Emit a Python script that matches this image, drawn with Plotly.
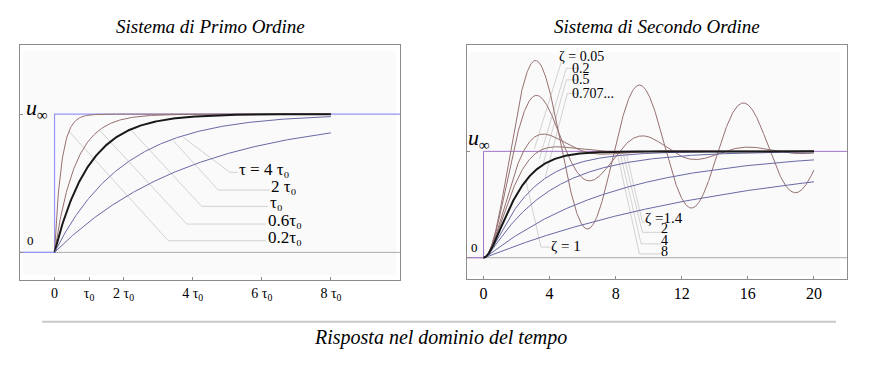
import numpy as np
import plotly.graph_objects as go

# ---------------- data ----------------
tau_values = [0.2, 0.6, 1.0, 2.0, 4.0]          # in units of tau0
zeta_values = [0.05, 0.2, 0.5, 0.7071, 1.0, 1.4, 2.0, 4.0, 8.0]
left_ticks = [0, 1, 2, 4, 6, 8]
left_ticktext = ["0", "τ<sub>0</sub>", "2 τ<sub>0</sub>", "4 τ<sub>0</sub>", "6 τ<sub>0</sub>", "8 τ<sub>0</sub>"]
right_ticks = [0, 4, 8, 12, 16, 20]
t1_end = 8.0
t2_end = 20.0

# ---------------- styles ----------------
BROWN = "rgb(150,112,112)"
BLUE = "rgb(105,105,165)"
BLACK = "rgb(25,25,25)"
STEP_L = "rgb(150,150,245)"
STEP_R = "rgb(160,115,200)"
LEADER = "rgb(200,200,200)"
FRAME = "rgb(140,140,140)"
SERIF = "Liberation Serif"

def first_order(t, tau):
    return 1 - np.exp(-t / tau)

def second_order(t, z):
    if z < 1:
        wd = np.sqrt(1 - z * z)
        return 1 - np.exp(-z * t) * (np.cos(wd * t) + z / wd * np.sin(wd * t))
    if z == 1:
        return 1 - (1 + t) * np.exp(-t)
    r = np.sqrt(z * z - 1)
    s1, s2 = -z + r, -z - r
    return 1 + (s2 * np.exp(s1 * t) - s1 * np.exp(s2 * t)) / (s1 - s2)

fig = go.Figure()

# pixel -> data helpers (for annotation placement only)
def L(px, py):
    return (px - 54.3) / 34.6, (253.3 - py) / 138.3

def R(px, py):
    return (px - 484.3) / 16.5, (258.3 - py) / 106.0

# ---------- left panel ----------
fig.add_trace(go.Scatter(x=[-1, 10], y=[0, 0], mode="lines", line=dict(color="rgb(170,170,170)", width=1),
                         xaxis="x", yaxis="y", hoverinfo="skip"))
fig.add_trace(go.Scatter(x=[-1, 0, 0, 10], y=[0, 0, 1, 1], mode="lines", line=dict(color=STEP_L, width=1.2),
                         xaxis="x", yaxis="y", hoverinfo="skip"))
t1 = np.linspace(0, t1_end, 400)
for tau in tau_values:
    col = BLACK if tau == 1 else (BROWN if tau < 1 else BLUE)
    w = 2 if tau == 1 else 1
    fig.add_trace(go.Scatter(x=t1, y=first_order(t1, tau), mode="lines", line=dict(color=col, width=w),
                             xaxis="x", yaxis="y", hoverinfo="skip"))

# ---------- right panel ----------
fig.add_trace(go.Scatter(x=[-1, 22], y=[0, 0], mode="lines", line=dict(color="rgb(170,170,170)", width=1),
                         xaxis="x2", yaxis="y2", hoverinfo="skip"))
fig.add_trace(go.Scatter(x=[-1, 0, 0, 22], y=[0, 0, 1, 1], mode="lines", line=dict(color=STEP_R, width=1),
                         xaxis="x2", yaxis="y2", hoverinfo="skip"))
t2 = np.linspace(0, t2_end, 1200)
order = [z for z in zeta_values if z != 1] + [1.0]
for z in order:
    col = BLACK if z == 1 else (BROWN if z < 1 else BLUE)
    w = 2 if z == 1 else 1
    fig.add_trace(go.Scatter(x=t2, y=second_order(t2, z), mode="lines", line=dict(color=col, width=w),
                             xaxis="x2", yaxis="y2", hoverinfo="skip"))

shapes = []
# inner light background
shapes.append(dict(type="rect", xref="x", yref="y", x0=-0.93, x1=9.88, y0=-0.165, y1=1.455,
                   fillcolor="rgb(250,250,250)", line=dict(width=0), layer="below"))
shapes.append(dict(type="rect", xref="x2", yref="y2", x0=-0.9, x1=21.6, y0=-0.17, y1=1.93,
                   fillcolor="rgb(250,250,250)", line=dict(width=0), layer="below"))

def leader(pts, xr, yr, conv):
    d = [conv(*p) for p in pts]
    path = "M " + " L ".join(f"{a:.4f},{b:.4f}" for a, b in d)
    shapes.append(dict(type="path", path=path, xref=xr, yref=yr, line=dict(color=LEADER, width=0.8), layer="below"))

# left leaders (pixel readings)
leader([(68.3, 131.7), (168.3, 241.7), (266, 241.7)], "x", "y", L)
leader([(100, 131.7), (186.7, 225), (266, 225)], "x", "y", L)
leader([(131.7, 131.7), (201.7, 207.3), (268, 207.3)], "x", "y", L)
leader([(173.3, 141.7), (218.3, 191), (270, 191)], "x", "y", L)
leader([(183.3, 138.3), (230, 173.3), (238, 173.3)], "x", "y", L)
# right leaders
leader([(562, 63), (535, 150)], "x2", "y2", R)
leader([(579, 69.5), (567, 69.5), (540, 160)], "x2", "y2", R)
leader([(579, 81), (567, 81), (543, 168)], "x2", "y2", R)
leader([(579, 94.5), (568, 94.5), (546, 178)], "x2", "y2", R)
leader([(551, 247.7), (541.7, 247.7), (526.7, 181.7)], "x2", "y2", R)
leader([(646, 222.7), (643, 222.7), (627, 155)], "x2", "y2", R)
leader([(662, 233), (643, 233), (624, 155)], "x2", "y2", R)
leader([(662, 244.5), (641.7, 244.5), (621, 155)], "x2", "y2", R)
leader([(662, 254.5), (640, 254.5), (618, 155)], "x2", "y2", R)

# bottom separator
shapes.append(dict(type="line", xref="paper", yref="paper", x0=42 / 869, x1=836 / 869,
                   y0=1 - 321.7 / 367, y1=1 - 321.7 / 367, line=dict(color="rgb(200,200,200)", width=2)))

ann = []
def text(t, xy, xr, yr, size, anchor="left", italic=False, color="black"):
    ann.append(dict(text=t, x=xy[0], y=xy[1], xref=xr, yref=yr, showarrow=False, xanchor=anchor,
                    yanchor="middle", borderpad=0,
                    font=dict(family=SERIF, size=size, color=color,
                              style="italic" if italic else "normal")))

# left labels
text("τ = 4 τ₀", L(238, 170.5), "x", "y", 17)
text("2 τ₀", L(270, 187), "x", "y", 17)
text("τ₀", L(269, 203), "x", "y", 17)
text("0.6τ₀", L(267, 221.5), "x", "y", 17)
text("0.2τ₀", L(267, 238.5), "x", "y", 17)
text("<i>u</i><sub>∞</sub>", L(25, 110), "x", "y", 22)
text("0", L(26, 241), "x", "y", 13)
# right labels
text("ζ = 0.05", R(559, 58), "x2", "y2", 14)
text("0.2", R(572, 69.5), "x2", "y2", 14)
text("0.5", R(572, 81), "x2", "y2", 14)
text("0.707...", R(572, 95), "x2", "y2", 14)
text("ζ = 1", R(551, 246.5), "x2", "y2", 15)
text("ζ =1.4", R(645, 218.5), "x2", "y2", 15)
text("2", R(661, 229.5), "x2", "y2", 14)
text("4", R(661, 241), "x2", "y2", 14)
text("8", R(661, 252.5), "x2", "y2", 14)
text("<i>u</i><sub>∞</sub>", R(468, 140), "x2", "y2", 22)
text("0", R(471, 248), "x2", "y2", 13)
text("ω<sub>n</sub> <i>t</i>", R(650, 305), "x2", "y2", 18, anchor="center", italic=True)

# titles
ann.append(dict(text="Sistema di Primo Ordine", x=210 / 869, y=1 - 27 / 367, xref="paper", yref="paper",
                showarrow=False, xanchor="center", yanchor="middle",
                font=dict(family=SERIF, size=19, style="italic", color="black")))
ann.append(dict(text="Sistema di Secondo Ordine", x=657 / 869, y=1 - 27 / 367, xref="paper", yref="paper",
                showarrow=False, xanchor="center", yanchor="middle",
                font=dict(family=SERIF, size=19, style="italic", color="black")))
ann.append(dict(text="Risposta nel dominio del tempo", x=440 / 869, y=1 - 337 / 367, xref="paper", yref="paper",
                showarrow=False, xanchor="center", yanchor="middle",
                font=dict(family=SERIF, size=20, style="italic", color="black")))

axis_common = dict(showgrid=False, zeroline=False, showline=True, mirror=True, linecolor=FRAME, linewidth=1,
                   ticks="inside", ticklen=3, tickcolor=FRAME, fixedrange=True)

fig.update_layout(
    width=869, height=367, margin=dict(l=0, r=0, t=0, b=0),
    paper_bgcolor="white", plot_bgcolor="white", showlegend=False,
    xaxis=dict(domain=[20 / 869, 400 / 869], range=[-1, 10], tickvals=left_ticks, ticktext=left_ticktext,
               tickfont=dict(family=SERIF, size=14, color="black"), anchor="y", **axis_common),
    yaxis=dict(domain=[1 - 280 / 367, 1 - 45 / 367], range=[-0.2, 1.5], tickvals=[0, 1], showticklabels=False,
               anchor="x", **axis_common),
    xaxis2=dict(domain=[467 / 869, 847 / 869], range=[-1, 22], tickvals=right_ticks,
                tickfont=dict(family=SERIF, size=16, color="black"), anchor="y2", **axis_common),
    yaxis2=dict(domain=[1 - 279 / 367, 1 - 45 / 367], range=[-0.2, 2], tickvals=[0, 1], showticklabels=False,
                anchor="x2", **axis_common),
    shapes=shapes, annotations=ann,
)

fig.write_html("out.html", config={"displayModeBar": False},
               post_script="document.body.style.margin='0';document.body.style.overflow='hidden';")
